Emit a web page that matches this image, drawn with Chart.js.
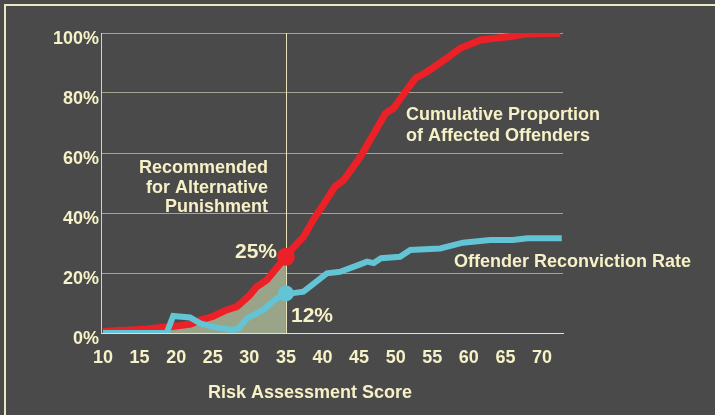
<!DOCTYPE html>
<html>
<head>
<meta charset="utf-8">
<script src="https://cdn.jsdelivr.net/npm/chart.js@4"></script>
<style>
  html, body { margin: 0; padding: 0; background: #4a4a4a; }
  #wrap { position: relative; width: 715px; height: 415px; overflow: hidden; }
  #frame { position: absolute; left: 4px; top: 4px; width: 760px; height: 460px;
           border-left: 2px solid #ebe7c4; border-top: 2px solid #ebe7c4; }
  canvas { position: absolute; left: 0; top: 0; }
</style>
</head>
<body>
<div id="wrap">
  <div id="frame"></div>
  <canvas id="risk-chart" width="715" height="415"></canvas>
</div>
<script>
// cumulative proportion of affected offenders (%) by risk score
const cumulativeScores = [10, 12, 14, 16, 18, 20, 22, 23.3, 25, 26.9, 28.3, 30, 31, 32.4, 33.5, 35,
  36, 37.4, 38.8, 40.1, 41.7, 42.9, 45.2, 46.5, 48.6, 49.7, 51.5, 52.7, 54.3, 57, 58.8, 61.6, 65.7, 68, 72.5];
const cumulativeValues = [0.5, 0.8, 1, 1.3, 1.8, 2.3, 3, 4.3, 5.5, 7.7, 8.8, 12.5, 15.4, 17.7, 21, 25.4,
  28.5, 32, 38, 42.7, 48.8, 51, 58.8, 64.3, 73.2, 74.9, 81, 84.9, 87.1, 91.6, 94.9, 97.7, 98.8, 99.7, 99.9];

// offender reconviction rate (%) by risk score
const reconvictionScores = [10, 18.7, 19.6, 21.9, 23.3, 25.5, 27.8, 28.5, 29.7, 31.9, 33.8, 35, 36, 37.4,
  40.6, 42.4, 44.5, 46.1, 47, 48, 50.6, 52, 56.1, 59.2, 62.9, 66, 68, 72.7];
const reconvictionValues = [0, 0, 5.7, 5.2, 3.2, 1.8, 1, 1.5, 4.9, 7.7, 11.6, 13.2, 13.3, 13.8,
  19.9, 20.4, 22.3, 23.8, 23.3, 24.9, 25.4, 27.7, 28.2, 30.1, 31, 31, 31.6, 31.6];

const scoreTicks = [10, 15, 20, 25, 30, 35, 40, 45, 50, 55, 60, 65, 70];
const percentTicks = [0, 20, 40, 60, 80, 100];
const cutoffScore = 35;
const cutoffLabels = ['25%', '12%'];

const cream = '#f6f1c6';
const red = '#ec2027';
const cyan = '#62c4d4';
const olive = '#9aa489';
const font = "'Liberation Sans', Arial, sans-serif";

const toPoints = (xs, ys) => xs.map((x, i) => ({ x: x, y: ys[i] }));
const markerRadius = r => c => (c.raw && c.raw.x === cutoffScore ? r : 0);

// cutoff line + text labels
const overlay = {
  id: 'overlay',
  beforeDatasetsDraw(chart) {
    const { ctx, chartArea, scales } = chart;
    const px = Math.round(scales.x.getPixelForValue(cutoffScore)) + 0.5;
    ctx.save();
    ctx.strokeStyle = '#e6e2be';
    ctx.lineWidth = 1;
    ctx.beginPath();
    ctx.moveTo(px, chartArea.top);
    ctx.lineTo(px, chartArea.bottom);
    ctx.stroke();
    ctx.restore();
  },
  afterDraw(chart) {
    const ctx = chart.ctx;
    ctx.save();
    ctx.fillStyle = cream;
    ctx.textBaseline = 'alphabetic';
    ctx.font = 'bold 18px ' + font;
    ctx.textAlign = 'right';
    ctx.fillText('Recommended', 268, 173);
    ctx.fillText('for Alternative', 268, 193);
    ctx.fillText('Punishment', 268, 212);
    ctx.textAlign = 'left';
    ctx.fillText('Cumulative Proportion', 406, 120);
    ctx.fillText('of Affected Offenders', 406, 141);
    ctx.fillText('Offender Reconviction Rate', 454, 267);
    ctx.fillText('Risk Assessment Score', 208, 398);
    ctx.font = 'bold 21px ' + font;
    ctx.textAlign = 'right';
    ctx.fillText(cutoffLabels[0], 277, 258);
    ctx.textAlign = 'left';
    ctx.fillText(cutoffLabels[1], 291, 322);
    ctx.restore();
  }
};

new Chart(document.getElementById('risk-chart'), {
  type: 'line',
  data: {
    datasets: [
      {
        label: 'Offender Reconviction Rate',
        data: toPoints(reconvictionScores, reconvictionValues),
        borderColor: cyan,
        borderWidth: 6,
        pointRadius: markerRadius(8),
        pointBackgroundColor: cyan,
        pointBorderWidth: 0,
        fill: false
      },
      {
        label: 'Cumulative Proportion of Affected Offenders',
        data: toPoints(cumulativeScores, cumulativeValues),
        borderColor: red,
        borderWidth: 7,
        pointRadius: markerRadius(9),
        pointBackgroundColor: red,
        pointBorderWidth: 0,
        fill: false
      },
      {
        label: 'Recommended for Alternative Punishment',
        data: toPoints(cumulativeScores, cumulativeValues).filter(p => p.x <= cutoffScore),
        borderWidth: 0,
        pointRadius: 0,
        backgroundColor: olive,
        fill: 'origin'
      }
    ]
  },
  options: {
    responsive: false,
    animation: false,
    devicePixelRatio: 1,
    layout: { padding: { left: 0, top: 33, right: 152, bottom: 0 } },
    plugins: { legend: { display: false }, tooltip: { enabled: false } },
    scales: {
      x: {
        type: 'linear',
        min: 9.73,
        max: 72.87,
        afterBuildTicks: s => { s.ticks = scoreTicks.map(v => ({ value: v })); },
        afterFit: s => { s.height = 82; },
        grid: { display: false, drawTicks: false },
        border: { display: true, color: '#e6e2be', width: 1 },
        ticks: { color: cream, font: { family: font, size: 18, weight: 'bold' }, padding: 14, maxRotation: 0, autoSkip: false }
      },
      y: {
        min: 0,
        max: 100,
        afterBuildTicks: s => { s.ticks = percentTicks.map(v => ({ value: v })); },
        afterFit: s => { s.width = 101; },
        grid: { color: '#a4a38d', lineWidth: 1, drawTicks: false },
        border: { display: true, color: '#d9d5b4', width: 1 },
        ticks: { color: cream, font: { family: font, size: 18, weight: 'bold' }, padding: 2, labelOffset: 6,
                 callback: v => v + '%' }
      }
    }
  },
  plugins: [overlay]
});
</script>
</body>
</html>
